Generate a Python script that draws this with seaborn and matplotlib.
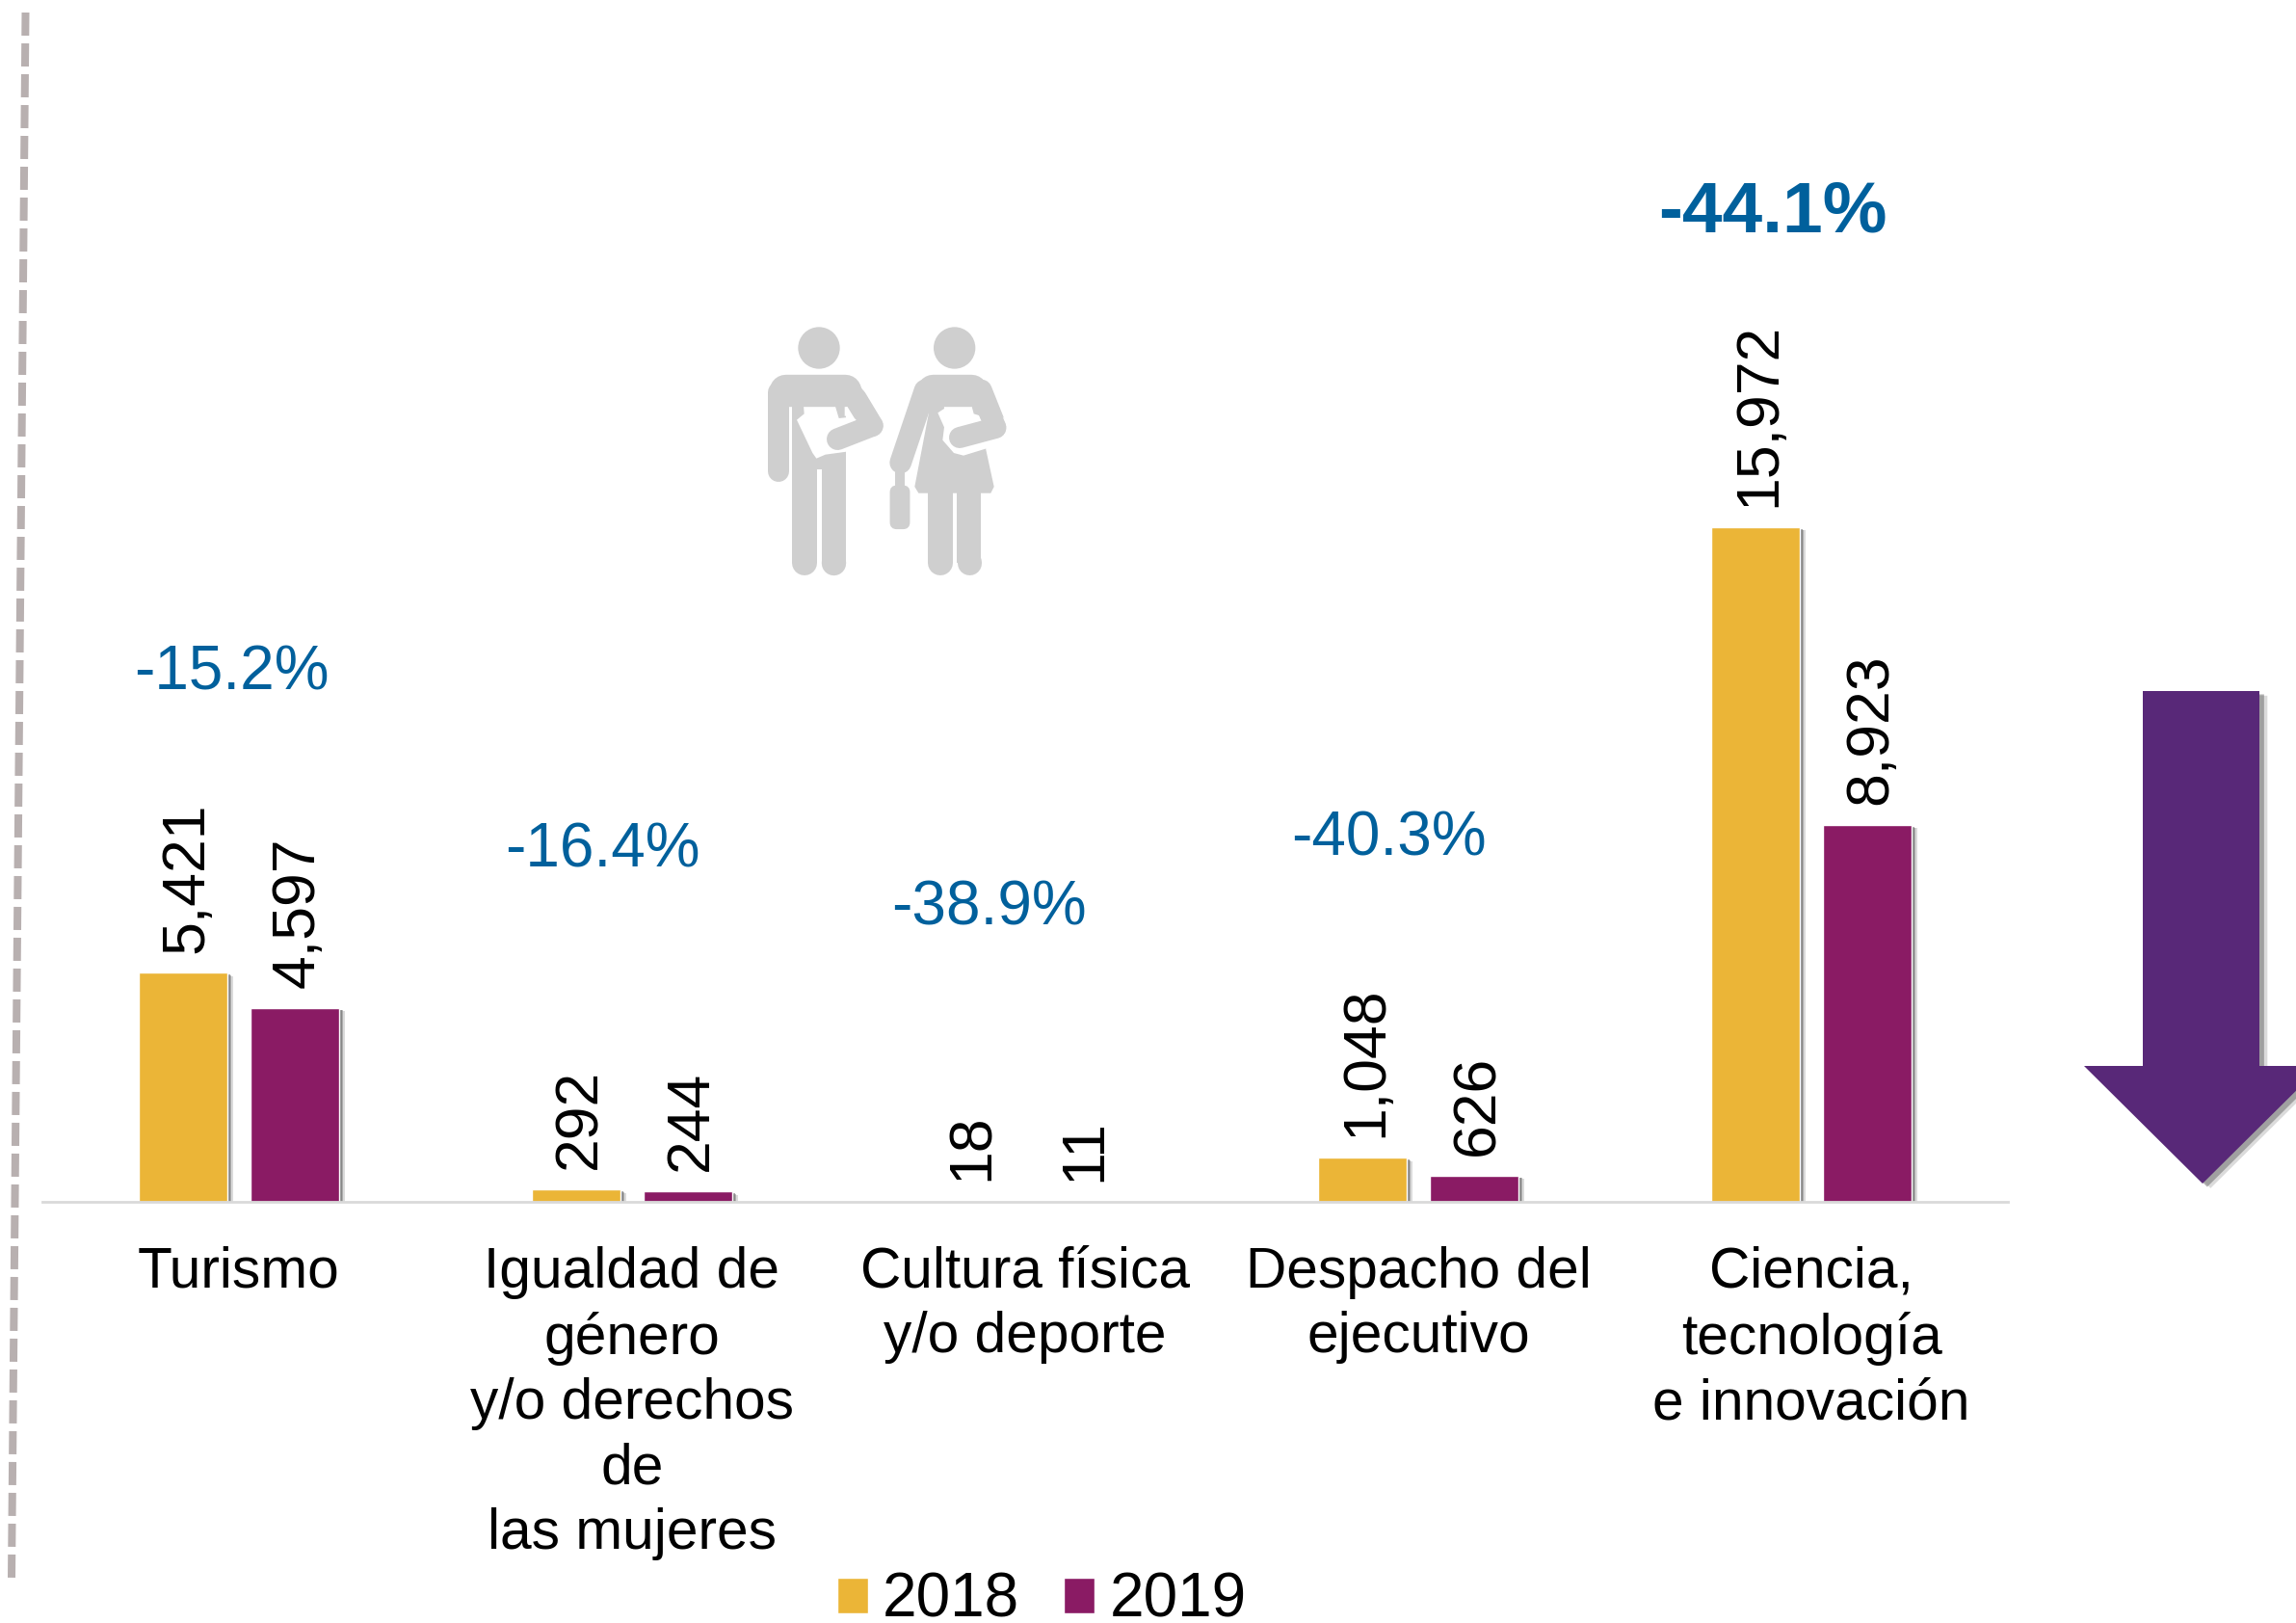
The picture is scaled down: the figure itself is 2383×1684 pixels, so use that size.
import seaborn as sns
import matplotlib.pyplot as plt
import matplotlib.patheffects as pe
from matplotlib.patches import Circle, FancyBboxPatch, Polygon
import pandas as pd

# datos
sectores = ["Turismo", "Igualdad de\ngénero\ny/o derechos\nde\nlas mujeres", "Cultura física\ny/o deporte",
            "Despacho del\nejecutivo", "Ciencia,\ntecnología\ne innovación"]
valores_2018 = [5421, 292, 18, 1048, 15972]
valores_2019 = [4597, 244, 11, 626, 8923]
variaciones = ["-15.2%", "-16.4%", "-38.9%", "-40.3%", "-44.1%"]

df = pd.DataFrame({
    "sector": sectores * 2,
    "valor": valores_2018 + valores_2019,
    "anio": ["2018"] * 5 + ["2019"] * 5,
})

W, H = 2383, 1684
sns.set_theme(style="white")
plt.rcParams['font.family'] = ['Liberation Sans', 'DejaVu Sans']

fig = plt.figure(figsize=(W / 100, H / 100), dpi=100)

# capa de adornos en pixeles
deco = fig.add_axes([0, 0, 1, 1], zorder=0)
deco.set_xlim(0, W)
deco.set_ylim(H, 0)
deco.axis("off")

ax = fig.add_axes([44 / W, 1 - 1247 / H, 2040 / W, 1247 / H], zorder=1)
ax.patch.set_alpha(0)

sns.barplot(data=df, x="sector", y="valor", hue="anio", palette=["#EBB537", "#8A1B64"],
            saturation=1, width=0.568, gap=0.208, ax=ax)
ax.set_ylim(0, 28450)
ax.set_xlim(-0.5, 4.5)
ax.set_xlabel("")
ax.set_ylabel("")
ax.set_yticks([])
for s in ["top", "left", "right"]:
    ax.spines[s].set_visible(False)
ax.spines["bottom"].set_color("#D9D9D9")
ax.spines["bottom"].set_linewidth(2)
ax.tick_params(axis="x", length=0, pad=33, labelsize=42.2, labelcolor="black")
for t in ax.get_xticklabels():
    t.set_linespacing(1.29)

sombra = [
    pe.SimplePatchShadow(offset=(4.5, -2.5), shadow_rgbFace="#999999", alpha=0.35),
    pe.SimplePatchShadow(offset=(3.2, -2), shadow_rgbFace="#808080", alpha=0.5),
    pe.SimplePatchShadow(offset=(2, -1.5), shadow_rgbFace="#707070", alpha=0.6),
    pe.Normal(),
]
for cont in ax.containers:
    etiquetas = ax.bar_label(cont, fmt="{:,.0f}", rotation=90, padding=15, fontsize=45, color="black")
    for et in etiquetas:
        et.xyann = (2.5, et.xyann[1])
    for bar in cont:
        if bar.get_height() > 100:
            bar.set_path_effects(sombra)

ax.legend(loc="center", bbox_to_anchor=(1081 / W, 1 - 1661 / H), bbox_transform=fig.transFigure, ncol=2,
          frameon=False, fontsize=46, labelcolor="black", handlelength=0.5, handleheight=0.5, handletextpad=0.24,
          columnspacing=0.72, borderpad=0, borderaxespad=0)

# variaciones
azul = "#00609C"
pos_var = [(240, 698), (625, 883), (1026, 943), (1441, 871), (1840, 221)]
for i, txt in enumerate(variaciones):
    ultimo = i == len(variaciones) - 1
    deco.text(pos_var[i][0], pos_var[i][1], txt, color=azul, ha="center", va="center",
              fontsize=54 if ultimo else 46, fontweight="bold" if ultimo else "normal")

# linea punteada de la izquierda
deco.plot([26.5, 12], [13, 1637], color="#B8B0B0", lw=5.76, linestyle=(0, (3, 1)), dash_capstyle="butt")

# flecha
deco.add_patch(Polygon([(2224, 717), (2345, 717), (2345, 1106), (2409, 1106), (2286, 1228), (2163, 1106), (2224, 1106)],
                       closed=True, facecolor="#582878", edgecolor="none",
                       path_effects=[pe.SimplePatchShadow(offset=(6, -3.5), shadow_rgbFace="#999999", alpha=0.35),
                                     pe.SimplePatchShadow(offset=(3.5, -2.5), shadow_rgbFace="#707070", alpha=0.55),
                                     pe.Normal()]))

# iconos de personas (coordenadas del recorte, escala 3)
gris = "#CFCFCF"
OX, OY = 760, 300


def p(x, y):
    return OX + x / 3, OY + y / 3


def poli(puntos, color=gris):
    deco.add_patch(Polygon([p(*q) for q in puntos], closed=True, facecolor=color, edgecolor="none"))


def trazo(a, b, ancho, color=gris):
    xa, ya = p(*a)
    xb, yb = p(*b)
    deco.plot([xa, xb], [ya, yb], color=color, lw=ancho / 3 * 0.72, solid_capstyle="round")


def pierna(x0, x1, y0):
    r = (x1 - x0) / 2
    poli([(x0, y0), (x1, y0), (x1, 853), (x0, 853)])
    trazo((x0 + r, 850), (x0 + r, 853), x1 - x0)


# hombre
deco.add_patch(Circle(p(270, 183), 65 / 3, facecolor=gris, edgecolor="none"))
trazo((165, 315), (350, 315), 100)
poli([(186, 340), (354, 340), (354, 560), (186, 560)])
trazo((145, 320), (145, 566), 66)
trazo((370, 320), (435, 425), 68)
pierna(186, 264, 550)
pierna(278, 354, 510)
poli([(178, 335), (186, 335), (186, 420), (178, 420)], "white")
poli([(350, 330), (356, 340), (356, 395), (350, 395)], "white")
poli([(201, 407), (224, 388), (222, 362), (315, 345), (332, 402), (395, 395), (400, 500),
      (290, 515), (262, 527), (250, 510)], "white")
trazo((328, 467), (436, 428), 82, "white")
trazo((328, 467), (436, 425), 68)
trazo((385, 340), (436, 425), 68)

# mujer
deco.add_patch(Circle(p(692, 183), 65 / 3, facecolor=gris, edgecolor="none"))
trazo((625, 315), (745, 315), 100)
poli([(600, 320), (780, 320), (790, 500), (815, 615), (805, 635), (580, 635), (568, 615), (612, 385)])
trazo((600, 315), (524, 540), 68)
trazo((775, 315), (820, 428), 68)
pierna(608, 686, 620)
pierna(700, 775, 620)
poli([(640, 385), (660, 372), (658, 345), (735, 325), (752, 388), (790, 400), (795, 495),
      (720, 518), (690, 510), (655, 470), (660, 430)], "white")
trazo((708, 462), (822, 434), 82, "white")
trazo((708, 462), (820, 432), 66)
trazo((790, 360), (820, 430), 66)
poli([(508, 560), (538, 560), (538, 615), (508, 615)])
deco.add_patch(FancyBboxPatch((OX + 497 / 3, OY + 617 / 3), 50 / 3, 124 / 3, boxstyle="round,pad=0,rounding_size=5",
                              mutation_aspect=1, facecolor=gris, edgecolor=gris, lw=3))

fig.savefig("out.png", dpi=100)
